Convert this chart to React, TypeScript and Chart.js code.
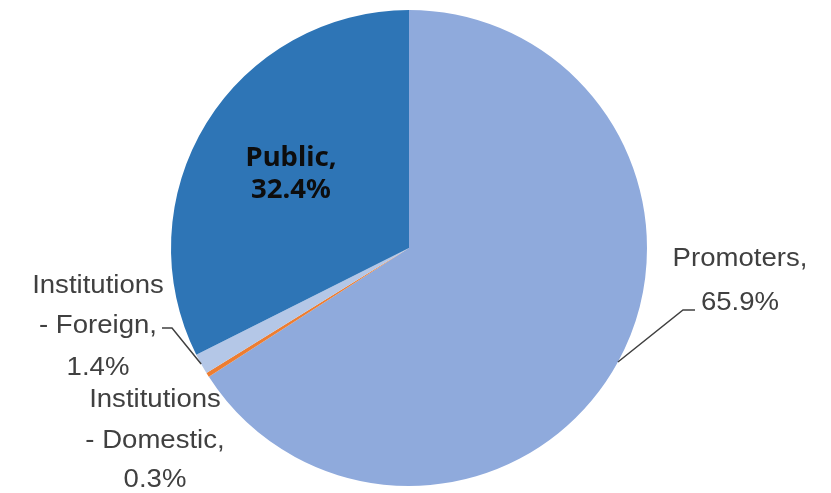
import React, { useEffect, useRef } from 'react';
import { Chart, registerables } from 'chart.js';

Chart.register(...registerables);

const categories = ['Promoters', 'Institutions - Domestic', 'Institutions - Foreign', 'Public'];
const shares = [65.9, 0.3, 1.4, 32.4];
const colors = ['#8FAADC', '#ED7D31', '#B4C7E7', '#2E75B6'];

// label placement relative to pie centre (style only)
const labelStyles = [
  { dx: 331, dy: [18, 62], bold: false, leader: [[274, 62], [286, 62]] },
  { dx: -254, dy: [159, 200, 239], bold: false, leader: null },
  { dx: -311, dy: [45, 85, 127], bold: false, leader: [[-237, 80], [-247, 80]] },
  { dx: -118, dy: [-82, -50], bold: true, leader: null },
];

function labelLines(cat: string, val: number): string[] {
  const parts = cat.split(' - ');
  const lines = parts.length > 1 ? [parts[0], '- ' + parts[1] + ','] : [cat + ','];
  lines.push(val.toFixed(1) + '%');
  return lines;
}

const labelPlugin = {
  id: 'pieLabels',
  afterDatasetsDraw(chart: any) {
    const ctx = chart.ctx;
    const meta = chart.getDatasetMeta(0);
    meta.data.forEach((arc: any, i: number) => {
      const { x, y, startAngle, endAngle, outerRadius } = arc.getProps(
        ['x', 'y', 'startAngle', 'endAngle', 'outerRadius'], true);
      const st = labelStyles[i];
      const lines = labelLines(categories[i], shares[i]);
      ctx.save();
      if (st.leader) {
        const mid = (startAngle + endAngle) / 2;
        ctx.beginPath();
        ctx.moveTo(x + Math.cos(mid) * outerRadius, y + Math.sin(mid) * outerRadius);
        st.leader.forEach((p: number[]) => ctx.lineTo(x + p[0], y + p[1]));
        ctx.strokeStyle = '#404040';
        ctx.lineWidth = 1.5;
        ctx.stroke();
      }
      ctx.textAlign = 'center';
      ctx.textBaseline = 'alphabetic';
      if (st.bold) {
        ctx.font = 'bold 26px "Noto Sans", "DejaVu Sans", sans-serif';
        ctx.fillStyle = '#0d0d0d';
      } else {
        ctx.font = '26px "Liberation Sans", Arial, sans-serif';
        ctx.fillStyle = '#404040';
      }
      lines.forEach((ln, k) => {
        ctx.save();
        ctx.translate(x + st.dx, y + st.dy[k]);
        ctx.scale(1.06, 1);
        ctx.fillText(ln, 0, 0);
        ctx.restore();
      });
      ctx.restore();
    });
  },
};

export default function App() {
  const ref = useRef<HTMLCanvasElement>(null);
  useEffect(() => {
    if (!ref.current) return;
    const chart = new Chart(ref.current, {
      type: 'pie',
      data: {
        labels: categories,
        datasets: [{
          data: shares,
          backgroundColor: colors,
          borderWidth: 0,
        }],
      },
      options: {
        responsive: false,
        animation: false,
        layout: { padding: { left: 171, right: 184, top: 10, bottom: 7 } },
        plugins: {
          legend: { display: false },
          tooltip: { enabled: false },
        },
      },
      plugins: [labelPlugin],
    });
    return () => chart.destroy();
  }, []);
  return (
    <div style={{ position: 'absolute', left: 0, top: 0, width: 831, height: 493, background: '#fff' }}>
      <canvas ref={ref} width={831} height={493} style={{ width: 831, height: 493 }} />
    </div>
  );
}
